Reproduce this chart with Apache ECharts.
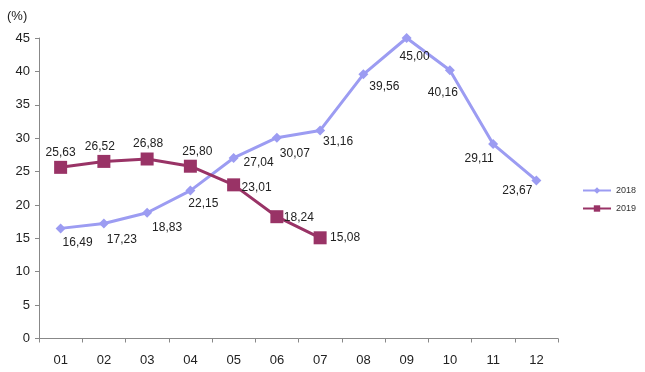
<!DOCTYPE html>
<html><head><meta charset="utf-8">
<script src="https://cdn.jsdelivr.net/npm/echarts@6/dist/echarts.min.js"></script>
<style>html,body{margin:0;padding:0;background:#fff}#c{width:645px;height:372px}</style>
</head><body><div id="c"></div>
<script>
var categories = ['01','02','03','04','05','06','07','08','09','10','11','12'];
var series2018 = [16.49, 17.23, 18.83, 22.15, 27.04, 30.07, 31.16, 39.56, 45.00, 40.16, 29.11, 23.67];
var series2019 = [25.63, 26.52, 26.88, 25.80, 23.01, 18.24, 15.08];
var yTicks = [0, 5, 10, 15, 20, 25, 30, 35, 40, 45];

// label offsets (style only)
var off2018 = [[17,14],[18,16],[20,15],[13,13],[25,5],[18,16],[18,11],[21,12],[8,19],[-7,22],[-14,15],[-19,10]];
var off2019 = [[0,-15],[-4,-15],[1,-15],[7,-15],[23,3],[22,1],[25,0]];

function fmt(v){ return v.toFixed(2).replace('.', ','); }
function build(vals, offs){
  return vals.map(function(v,i){ return {value: v, label: {offset: offs[i]}}; });
}
var chart = echarts.init(document.getElementById('c'));
var font = 'Liberation Sans, Arial, sans-serif';
chart.setOption({
  animation: false,
  textStyle: {fontFamily: font},
  title: {text: '(%)', left: 2, top: 5, textStyle: {fontSize: 13, fontWeight: 'normal', color: '#222', fontFamily: font}},
  grid: {left: 39, right: 87, top: 38, bottom: 33.5, containLabel: false},
  legend: {
    orient: 'vertical', left: 577, top: 181, itemGap: 9,
    itemWidth: 28, itemHeight: 8,
    textStyle: {fontSize: 9, color: '#333', fontFamily: font},
    data: ['2018', '2019']
  },
  xAxis: {
    type: 'category', data: categories, boundaryGap: true,
    axisLine: {lineStyle: {color: '#888', width: 1}},
    axisTick: {show: true, alignWithLabel: false, length: 4, lineStyle: {color: '#888'}},
    axisLabel: {fontSize: 13, color: '#222', margin: 15, fontFamily: font},
    splitLine: {show: false}
  },
  yAxis: {
    type: 'value', min: 0, max: 45, interval: 5,
    axisLine: {show: true, lineStyle: {color: '#888', width: 1}},
    axisTick: {show: true, length: 4, lineStyle: {color: '#888'}},
    axisLabel: {fontSize: 13, color: '#222', margin: 9, fontFamily: font,
      formatter: function(v){ return yTicks.indexOf(v) >= 0 ? String(v) : ''; }},
    splitLine: {show: false}
  },
  series: [
    {
      name: '2018', type: 'line', data: build(series2018, off2018),
      symbol: 'diamond', symbolSize: 10,
      lineStyle: {color: '#9c9cf2', width: 3},
      itemStyle: {color: '#9c9cf2'},
      label: {show: true, position: 'inside', fontSize: 12, color: '#222',
        formatter: function(p){ return fmt(p.value); }},
      z: 2
    },
    {
      name: '2019', type: 'line', data: build(series2019, off2019),
      symbol: 'rect', symbolSize: 13,
      lineStyle: {color: '#993366', width: 3},
      itemStyle: {color: '#993366'},
      label: {show: true, position: 'inside', fontSize: 12, color: '#222',
        formatter: function(p){ return fmt(p.value); }},
      z: 3
    }
  ]
});
</script>
</body></html>
